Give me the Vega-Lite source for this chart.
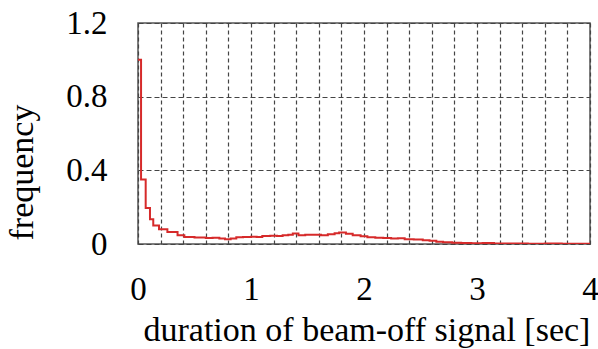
{
  "$schema": "https://vega.github.io/schema/vega-lite/v6.json",
  "autosize": {"type": "none"},
  "padding": {"left": 138, "top": 23, "right": 8, "bottom": 105},
  "width": 452,
  "height": 221,
  "background": "white",
  "config": {
    "view": {"stroke": "#555", "strokeWidth": 1.5},
    "font": "Liberation Serif",
    "axis": {
      "labelFont": "Liberation Serif",
      "titleFont": "Liberation Serif",
      "labelColor": "#000",
      "titleColor": "#000",
      "labelFontSize": 33,
      "titleFontSize": 34,
      "titleFontWeight": "normal",
      "ticks": false,
      "tickSize": 0,
      "domain": false,
      "gridColor": "#444",
      "gridOpacity": 1,
      "gridWidth": 1.2
    }
  },
  "data": {
    "values": [
      {"t": 0, "f": 1.0},
      {"t": 0.027, "f": 0.35},
      {"t": 0.068, "f": 0.195},
      {"t": 0.106, "f": 0.135},
      {"t": 0.135, "f": 0.10},
      {"t": 0.186, "f": 0.08},
      {"t": 0.26, "f": 0.065},
      {"t": 0.35, "f": 0.048},
      {"t": 0.41, "f": 0.038},
      {"t": 0.5, "f": 0.035},
      {"t": 0.6, "f": 0.032},
      {"t": 0.66, "f": 0.034},
      {"t": 0.72, "f": 0.03},
      {"t": 0.77, "f": 0.026},
      {"t": 0.82, "f": 0.03},
      {"t": 0.87, "f": 0.036},
      {"t": 0.93, "f": 0.038},
      {"t": 1.0, "f": 0.04},
      {"t": 1.05, "f": 0.038},
      {"t": 1.1, "f": 0.043},
      {"t": 1.17, "f": 0.045},
      {"t": 1.23, "f": 0.043},
      {"t": 1.28, "f": 0.048},
      {"t": 1.33, "f": 0.05},
      {"t": 1.37, "f": 0.057},
      {"t": 1.42, "f": 0.048},
      {"t": 1.48, "f": 0.05},
      {"t": 1.55, "f": 0.05},
      {"t": 1.62, "f": 0.048},
      {"t": 1.68, "f": 0.053},
      {"t": 1.74, "f": 0.058},
      {"t": 1.78, "f": 0.062},
      {"t": 1.84, "f": 0.055},
      {"t": 1.9, "f": 0.047},
      {"t": 1.97, "f": 0.042},
      {"t": 2.03, "f": 0.036},
      {"t": 2.1, "f": 0.034},
      {"t": 2.17, "f": 0.032},
      {"t": 2.24, "f": 0.03},
      {"t": 2.3, "f": 0.031},
      {"t": 2.36, "f": 0.026},
      {"t": 2.44, "f": 0.024},
      {"t": 2.52, "f": 0.021},
      {"t": 2.58, "f": 0.017},
      {"t": 2.64, "f": 0.012},
      {"t": 2.7, "f": 0.009},
      {"t": 2.78, "f": 0.007},
      {"t": 2.86, "f": 0.005},
      {"t": 2.95, "f": 0.004},
      {"t": 3.05, "f": 0.005},
      {"t": 3.15, "f": 0.003},
      {"t": 3.3, "f": 0.003},
      {"t": 3.45, "f": 0.002},
      {"t": 3.6, "f": 0.003},
      {"t": 3.75, "f": 0.002},
      {"t": 3.9, "f": 0.002},
      {"t": 4.0, "f": 0.002}
    ]
  },
  "mark": {"type": "line", "interpolate": "step-after", "color": "#d62a2a", "strokeWidth": 2, "clip": true},
  "encoding": {
    "x": {
      "field": "t",
      "type": "quantitative",
      "scale": {"domain": [0, 4], "nice": false, "zero": false},
      "axis": {
        "title": "duration of beam-off signal [sec]",
        "values": [0, 0.2, 0.4, 0.6, 0.8, 1, 1.2, 1.4, 1.6, 1.8, 2, 2.2, 2.4, 2.6, 2.8, 3, 3.2, 3.4, 3.6, 3.8, 4],
        "labelExpr": "datum.value == round(datum.value) ? format(datum.value, 'd') : ''",
        "labelBaseline": "alphabetic",
        "labelPadding": 55,
        "labelFlush": false,
        "labelOverlap": false,
        "gridDash": [4, 3],
        "titleBaseline": "alphabetic",
        "titleAlign": "left",
        "titleAnchor": "start",
        "titleX": 5,
        "titleY": 96
      }
    },
    "y": {
      "field": "f",
      "type": "quantitative",
      "scale": {"domain": [0, 1.2], "nice": false},
      "axis": {
        "title": "frequency",
        "values": [0, 0.4, 0.8, 1.2],
        "labelExpr": "datum.value == 0 ? '0' : format(datum.value, '.1f')",
        "labelPadding": 31,
        "labelFlush": false,
        "labelOverlap": false,
        "gridDash": [5, 3],
        "titleBaseline": "alphabetic",
        "titleAngle": -90,
        "titleAlign": "center",
        "titleX": -106,
        "titleY": 149
      }
    }
  }
}
